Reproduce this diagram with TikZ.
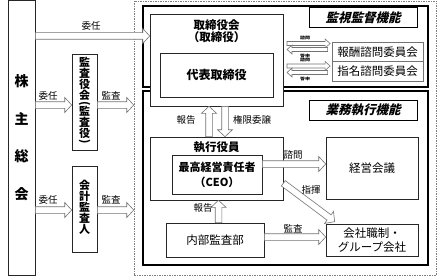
\documentclass[tikz,border=0pt]{standalone}
\usepackage{fontspec}
\setmainfont{Noto Sans CJK JP}
\newfontfamily\jpbi[FakeSlant=0.25]{Noto Sans CJK JP}
\usetikzlibrary{calc}
\def\bsw{3.3pt}\def\bhw{7.5pt}\def\bhl{7pt}
\newcommand\barrow[3][]{%
  \path (#2) coordinate (bA) (#3) coordinate (bB);%
  \pgfpointdiff{\pgfpointanchor{bA}{center}}{\pgfpointanchor{bB}{center}}%
  \pgfgetlastxy{\bdx}{\bdy}%
  \pgfmathsetmacro\bal{veclen(\bdx,\bdy)}%
  \pgfmathsetmacro\baa{atan2(\bdy,\bdx)}%
  \begin{scope}[shift={(bA)}, rotate=\baa]
    \draw[barrowstyle,#1] (0pt,-\bsw) -- ({\bal pt-\bhl},-\bsw) -- ({\bal pt-\bhl},-\bhw)
      -- ({\bal pt},0pt) -- ({\bal pt-\bhl},\bhw) -- ({\bal pt-\bhl},\bsw) -- (0pt,\bsw) -- cycle;
  \end{scope}}
\tikzset{
  barrowstyle/.style={draw=black!55, fill=white, line width=0.6pt, line join=miter},
  frame/.style={draw=black!85, line width=0.6pt, fill=white, inner sep=0pt},
  thickframe/.style={draw=black, line width=1.1pt, inner sep=0pt},
  dashframe/.style={draw=black!50, line width=0.6pt, dash pattern=on 1.5pt off 1pt, inner sep=0pt},
  grayframe/.style={draw=black!55, line width=0.8pt, fill=white, inner sep=0pt},
  lbl/.style={inner sep=0pt, font=\fontsize{9.5}{10}\selectfont},
  tiny/.style={inner sep=0pt, font=\fontsize{5}{5}\selectfont\bfseries, yscale=0.8},
  ttl/.style={inner sep=0pt, align=center, font=\fontsize{11.5}{12.5}\selectfont\bfseries},
  vch/.style={inner sep=0pt, font=\fontsize{11}{11}\selectfont\bfseries},
  reg/.style={inner sep=0pt, align=center, font=\fontsize{11.5}{14}\selectfont},
  func/.style={draw=black, line width=1pt, fill=white, inner sep=0pt, font=\fontsize{12.5}{13}\selectfont\jpbi\bfseries}
}
\begin{document}
\begin{tikzpicture}[x=1pt,y=-1pt]
\useasboundingbox (0,0) rectangle (439,278);
% outer frames
\node[dashframe, minimum width=302, minimum height=274] (dash) at (285,138) {};
\node[thickframe, minimum width=285, minimum height=81] (topbox) at (285.5,46.5) {};
\node[thickframe, minimum width=285, minimum height=174] (botbox) at (285.5,178) {};
% left column
\node[frame, minimum width=27, minimum height=274.5, align=center,
      font=\fontsize{14}{37.5}\selectfont\bfseries] (kabu) at (21.5,137.75) {株\\主\\総\\会};
\node[frame, minimum width=25, minimum height=96] (kansa) at (84.5,102) {};
\node[vch] (v1) at (84.5,62.5) {監};
\node[vch] (v2) at (84.5,73.5) {査};
\node[vch] (v3) at (84.5,84.5) {役};
\node[vch] (v4) at (84.5,95.5) {会};
\node[vch, rotate=-90] (v5) at (84.5,103.5) {(};
\node[vch] (v6) at (84.5,111.5) {監};
\node[vch] (v7) at (84.5,122.5) {査};
\node[vch] (v8) at (84.5,133.5) {役};
\node[vch, rotate=-90] (v9) at (84.5,141.5) {)};
\node[frame, minimum width=25, minimum height=86] (kaikei) at (84.5,209) {};
\node[ttl, font=\fontsize{11}{11}\selectfont\bfseries] (kaikeiT) at (84.5,207.5) {会\\計\\監\\査\\人};
% board
\node[frame, minimum width=133, minimum height=92] (tori) at (216.5,60) {};
\node[ttl] (toriT) at (216.5,31) {取締役会\\（取締役）};
\node[frame, minimum width=113, minimum height=44, font=\fontsize{12}{12}\selectfont\bfseries] (daihyo) at (216.5,75) {代表取締役};
\node[func, minimum width=108, minimum height=20] (kanshi) at (363,18) {監視監督機能};
\node[grayframe, minimum width=91, minimum height=19.5, font=\fontsize{11.5}{12}\selectfont] (hoshu) at (377.5,51.75) {報酬諮問委員会};
\node[grayframe, minimum width=91, minimum height=19.5, font=\fontsize{11.5}{12}\selectfont] (shimei) at (377.5,71.25) {指名諮問委員会};
% execution
\node[func, minimum width=108, minimum height=20] (gyomu) at (363,110) {業務執行機能};
\node[frame, minimum width=133, minimum height=63] (shikko) at (216.5,168.5) {};
\node[ttl] (shikkoT) at (216.5,147.5) {執行役員};
\node[frame, minimum width=90, minimum height=39] (ceo) at (217,174.5) {};
\node[ttl, font=\fontsize{11}{15}\selectfont\bfseries] (ceoT) at (217,175) {最高経営責任者\\（CEO）};
\node[frame, minimum width=92, minimum height=62, font=\fontsize{11.5}{12}\selectfont] (keiei) at (372,168) {経営会議};
\node[frame, minimum width=92, minimum height=32, reg] (kaisha) at (372,240) {会社職制・\\グループ会社};
\node[frame, minimum width=98, minimum height=34, font=\fontsize{11.5}{12}\selectfont] (naibu) at (215,240) {内部監査部};
% helper coordinates
\coordinate (ya) at (0,36);
\coordinate (yb) at (0,105);
\coordinate (yc) at (0,210);
\coordinate (yd) at (0,164);
\coordinate (ye) at (0,237);
\coordinate (xu) at (209,0);
\coordinate (xd) at (225,0);
\coordinate (xr) at (218.5,0);
\coordinate (ds) at ($(shikko.south east)+(0,-17)$);
\coordinate (de) at ($(kaisha.north west)+(9,-2)$);
% arrows
\barrow{kabu.east |- ya}{tori.west |- ya}
\barrow{kabu.east |- yb}{kansa.west |- yb}
\barrow{kansa.east |- yb}{dash.west |- yb}
\barrow{kabu.east |- yc}{kaikei.west |- yc}
\barrow{kaikei.east |- yc}{dash.west |- yc}
\barrow{xu |- shikko.north}{xu |- tori.south}
\barrow{xd |- tori.south}{xd |- shikko.north}
\barrow{ceo.east |- yd}{keiei.west |- yd}
\barrow{ds}{de}
\barrow{xr |- naibu.north}{xr |- shikko.south}
\barrow{naibu.east |- ye}{kaisha.west |- ye}
% small committee arrows
\coordinate (s1) at (287,43.5);
\coordinate (s2) at (287,49.5);
\coordinate (s3) at (287,66);
\coordinate (s4) at (287,72.5);
{\def\bsw{2pt}\def\bhw{4.5pt}\def\bhl{5pt}
\barrow{s1}{$(s1 -| hoshu.west)+(-1.5,0)$}
\barrow{$(s2 -| hoshu.west)+(-4,0)$}{s2}
\barrow{s3}{$(s3 -| shimei.west)+(-1.5,0)$}
\barrow{$(s4 -| shimei.west)+(-4,0)$}{s4}
}
% labels
\node[lbl] (l1) at (91,26) {委任};
\node[lbl] (l2) at (48,96) {委任};
\node[lbl] (l3) at (111,96) {監査};
\node[lbl] (l4) at (48,200) {委任};
\node[lbl] (l5) at (111,200) {監査};
\node[lbl] (l6) at (186,120) {報告};
\node[lbl] (l7) at (252,120) {権限委譲};
\node[lbl] (l8) at (293,155) {諮問};
\node[lbl] (l9) at (311,190) {指揮};
\node[lbl] (l10) at (203,208) {報告};
\node[lbl] (l11) at (293,229) {監査};
\node[tiny] (t1) at (305,38) {諮問};
\node[tiny] (t2) at (305,55.5) {答申};
\node[tiny] (t3) at (305,60) {諮問};
\node[tiny] (t4) at (305,78.5) {答申};
\end{tikzpicture}
\end{document}
